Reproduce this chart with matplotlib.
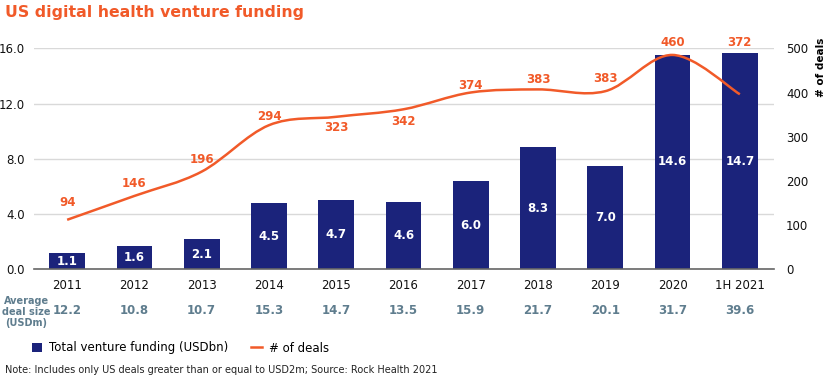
import matplotlib.pyplot as plt
import numpy as np
from matplotlib.lines import Line2D
from matplotlib.patches import Patch, PathPatch
from matplotlib.path import Path
from matplotlib.transforms import blended_transform_factory

plt.rcParams["font.family"] = ["DejaVu Sans"]

# data
years = ["2011", "2012", "2013", "2014", "2015", "2016", "2017", "2018", "2019", "2020", "1H 2021"]
funding_bars = [1.2, 1.7, 2.2, 4.8, 5.0, 4.9, 6.4, 8.85, 7.45, 15.55, 15.65]
funding_labels = ["1.1", "1.6", "2.1", "4.5", "4.7", "4.6", "6.0", "8.3", "7.0", "14.6", "14.7"]
deals_line = [112, 166, 221, 326, 345, 362, 400, 407, 403, 485, 396]
deals_labels = ["94", "146", "196", "294", "323", "342", "374", "383", "383", "460", "372"]
avg_deal_size = ["12.2", "10.8", "10.7", "15.3", "14.7", "13.5", "15.9", "21.7", "20.1", "31.7", "39.6"]

NAVY = "#1b237b"
ORANGE = "#f15a29"
SLATE = "#5f7d8e"

# label offsets (pixels) for the deal counts
deal_label_dy = [17, 12, 12, 9, -11, -12, 7, 10, 13, 12, 52]

fig = plt.figure(figsize=(8.3, 3.8), dpi=100)
ax = fig.add_axes([33.5 / 830, 1 - 269.3 / 380, 740 / 830, 221 / 380])
x = np.arange(len(years))

ax.bar(x, funding_bars, width=0.53, color=NAVY, zorder=2)
for xi, h, lab in zip(x, funding_bars, funding_labels):
    ax.text(xi, h / 2, lab, ha="center", va="center", color="white",
            fontsize=8.5, fontweight="bold", zorder=3)

ax.set_xlim(-0.5, len(years) - 0.5)
ax.set_ylim(0, 16)
ax.set_yticks([0, 4, 8, 12, 16])
ax.set_yticklabels([f"{v:.1f}" for v in [0, 4, 8, 12, 16]])
ax.set_xticks(x)
ax.set_xticklabels(years)
ax.grid(axis="y", color="#d9d9d9", linewidth=1, zorder=0)
ax.set_axisbelow(True)
for side in ["left", "right", "top"]:
    ax.spines[side].set_visible(False)
ax.spines["bottom"].set_color("#666666")
ax.spines["bottom"].set_linewidth(1.2)
ax.tick_params(axis="both", length=0, labelsize=8.5, colors="#111111")
ax.tick_params(axis="x", pad=7)
ax.tick_params(axis="y", pad=6)

# number of deals on the right axis
ax2 = ax.twinx()
ax2.set_ylim(0, 500)
ax2.set_yticks(range(0, 501, 100))
for side in ["left", "right", "top", "bottom"]:
    ax2.spines[side].set_visible(False)
ax2.tick_params(axis="y", length=0, labelsize=8.5, colors="#111111", pad=9)
ax2.set_ylabel("# of deals", fontsize=7.5, fontweight="bold")
ax2.yaxis.set_label_coords(1.057, 0.915)

# smooth line through the points (Catmull-Rom as Bezier segments)
pts = np.column_stack([x, deals_line]).astype(float)
ext = np.vstack([pts[0], pts, pts[-1]])
verts = [tuple(pts[0])]
codes = [Path.MOVETO]
for i in range(len(pts) - 1):
    p0, p1, p2, p3 = ext[i], ext[i + 1], ext[i + 2], ext[i + 3]
    c1 = p1 + (p2 - p0) / 6
    c2 = p2 - (p3 - p1) / 6
    verts += [tuple(c1), tuple(c2), tuple(p2)]
    codes += [Path.CURVE4] * 3
ax2.add_patch(PathPatch(Path(verts, codes), facecolor="none", edgecolor=ORANGE,
                        linewidth=1.8, zorder=4))

for xi, yv, lab, dy in zip(x, deals_line, deals_labels, deal_label_dy):
    ax2.annotate(lab, (xi, yv), xytext=(0, dy * 0.72), textcoords="offset points",
                 ha="center", va="center", color=ORANGE, fontsize=8.5,
                 fontweight="bold", zorder=5)

# average deal size row
btf = blended_transform_factory(ax.transData, fig.transFigure)
for xi, v in zip(x, avg_deal_size):
    ax.text(xi, 1 - 311 / 380, v, transform=btf, ha="center", va="center",
            color=SLATE, fontsize=8.5, fontweight="bold")
fig.text(26.5 / 830, 1 - 312 / 380, "Average\ndeal size\n(USDm)", ha="center",
         va="center", color=SLATE, fontsize=7, fontweight="bold", linespacing=1.15)

# title
fig.text(5 / 830, 1 - 12 / 380, "US digital health venture funding", ha="left",
         va="center", color=ORANGE, fontsize=11.3, fontweight="bold")

# legend
handles = [Patch(facecolor=NAVY, edgecolor="none", label="Total venture funding (USDbn)"),
           Line2D([0], [0], color=ORANGE, linewidth=1.8, label="# of deals")]
fig.legend(handles=handles, loc="center left", bbox_to_anchor=(27 / 830, 1 - 348 / 380),
           ncol=2, frameon=False, fontsize=8.5, handlelength=0.9, handleheight=0.9,
           handletextpad=0.6, columnspacing=1.9, borderaxespad=0)

fig.text(5 / 830, 1 - 370 / 380,
         "Note: Includes only US deals greater than or equal to USD2m; Source: Rock Health 2021",
         ha="left", va="center", fontsize=7, color="#222222")

fig.savefig("out.png", dpi=100)
